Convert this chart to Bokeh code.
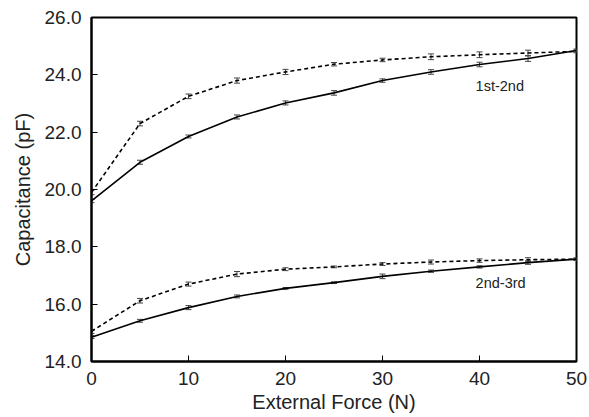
from bokeh.plotting import figure
from bokeh.models import ColumnDataSource, Whisker, TeeHead, Range1d, PrintfTickFormatter, FixedTicker, Label
from bokeh.embed import file_html
from bokeh.resources import INLINE

force = [0, 5, 10, 15, 20, 25, 30, 35, 40, 45, 50]
a_solid = [19.6, 20.95, 21.85, 22.53, 23.02, 23.37, 23.8, 24.1, 24.36, 24.57, 24.85]
a_dash = [19.9, 22.3, 23.25, 23.8, 24.1, 24.37, 24.52, 24.63, 24.7, 24.76, 24.82]
b_solid = [14.85, 15.42, 15.88, 16.27, 16.55, 16.75, 16.97, 17.15, 17.3, 17.45, 17.57]
b_dash = [15.05, 16.12, 16.7, 17.05, 17.22, 17.3, 17.4, 17.47, 17.52, 17.55, 17.57]
a_solid_err = [0.06, 0.07, 0.05, 0.07, 0.07, 0.08, 0.06, 0.08, 0.08, 0.1, 0.05]
a_dash_err = [0.08, 0.08, 0.08, 0.09, 0.09, 0.06, 0.06, 0.1, 0.1, 0.1, 0.05]
b_solid_err = [0.05, 0.05, 0.07, 0.05, 0.03, 0.03, 0.08, 0.04, 0.04, 0.06, 0.04]
b_dash_err = [0.07, 0.08, 0.07, 0.09, 0.05, 0.03, 0.05, 0.07, 0.06, 0.07, 0.04]
y_ticks = [14, 16, 18, 20, 22, 24, 26]
x_ticks = [0, 10, 20, 30, 40, 50]

FONT = "Liberation Sans"

p = figure(width=589, height=417, output_backend="svg", toolbar_location=None,
           x_range=Range1d(0, 50), y_range=Range1d(14, 26),
           min_border_left=91, min_border_right=13, min_border_top=17, min_border_bottom=56)
p.xgrid.visible = False
p.ygrid.visible = False
p.outline_line_color = "black"
p.outline_line_width = 2
p.outline_line_alpha = 1

for ax in (p.xaxis[0], p.yaxis[0]):
    ax.axis_line_width = 2
    ax.axis_line_color = "black"
    ax.major_tick_in = 6
    ax.major_tick_out = 0
    ax.major_tick_line_color = "black"
    ax.minor_tick_line_color = None
    ax.major_label_text_font = FONT
    ax.major_label_text_font_size = "19px"
    ax.major_label_text_color = "#222222"
    ax.axis_label_text_font = FONT
    ax.axis_label_text_font_size = "20px"
    ax.axis_label_text_font_style = "normal"
    ax.axis_label_text_color = "#222222"

p.xaxis.ticker = FixedTicker(ticks=x_ticks)
p.yaxis.ticker = FixedTicker(ticks=y_ticks)
p.yaxis.formatter = PrintfTickFormatter(format="%.1f")
p.xaxis.axis_label = "External Force (N)"
p.yaxis.axis_label = "Capacitance (pF)"
p.xaxis.major_label_standoff = 10
p.xaxis.axis_label_standoff = 3
p.yaxis.major_label_standoff = 10
p.yaxis.axis_label_standoff = 8

series = [(a_solid, a_solid_err, "solid"), (a_dash, a_dash_err, "dashed"),
          (b_solid, b_solid_err, "solid"), (b_dash, b_dash_err, "dashed")]
for ys, es, dash in series:
    src = ColumnDataSource(dict(x=force, y=ys,
                                lo=[v - e for v, e in zip(ys, es)],
                                hi=[v + e for v, e in zip(ys, es)]))
    p.line("x", "y", source=src, line_color="black", line_width=1.6,
           line_dash="4 3" if dash == "dashed" else "solid")
    w = Whisker(base="x", lower="lo", upper="hi", source=src,
                line_color="#444444", line_width=1,
                upper_head=TeeHead(size=6, line_color="#444444", line_width=1),
                lower_head=TeeHead(size=6, line_color="#444444", line_width=1))
    p.add_layout(w)

p.add_layout(Label(x=39.6, y=23.62, text="1st-2nd", text_font=FONT, text_font_size="14.5px",
                   text_color="#222222", text_baseline="middle"))
p.add_layout(Label(x=39.6, y=16.73, text="2nd-3rd", text_font=FONT, text_font_size="14.5px",
                   text_color="#222222", text_baseline="middle"))

open("out.html", "w").write(file_html(p, INLINE))
